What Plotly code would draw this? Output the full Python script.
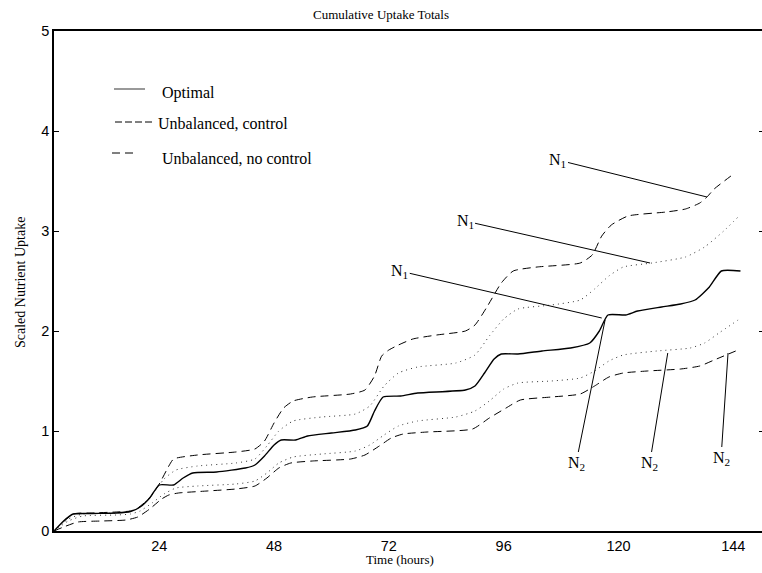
import plotly.graph_objects as go

# ---------------- data ----------------
opt_t = [2, 4, 6, 10, 15, 18, 20, 22, 24, 27, 29, 31, 36, 42, 44, 46, 48, 49.5, 52.5, 55, 60, 65,
         67.5, 69, 70.8, 74.5, 78, 88, 90, 92, 94, 95.5, 99, 104, 110, 114, 116, 117.8, 121.5, 124,
         129, 133, 136, 139, 141.5, 145.5]
opt_v = [0, 0.10, 0.17, 0.175, 0.18, 0.195, 0.24, 0.33, 0.46, 0.46, 0.53, 0.58, 0.59, 0.63, 0.66,
         0.75, 0.86, 0.91, 0.91, 0.95, 0.98, 1.01, 1.05, 1.20, 1.34, 1.35, 1.38, 1.41, 1.45, 1.58,
         1.72, 1.77, 1.77, 1.80, 1.83, 1.88, 2.00, 2.16, 2.16, 2.20, 2.24, 2.27, 2.31, 2.44, 2.60, 2.60]

ctrl_hi_t = [2, 6, 10, 15, 18, 19.5, 22, 24, 26, 27, 32, 40, 44, 46, 48, 50, 52, 56, 64, 67, 69,
             70.5, 72, 74, 77, 82, 88, 90, 92.5, 95.5, 98, 103, 112, 114.5, 116.5, 118.5, 122, 130,
             134, 137, 138.5, 140, 143.5]
ctrl_hi_v = [0, 0.17, 0.18, 0.19, 0.20, 0.23, 0.33, 0.47, 0.65, 0.72, 0.76, 0.79, 0.82, 0.90, 1.08,
             1.23, 1.30, 1.34, 1.37, 1.41, 1.55, 1.75, 1.81, 1.86, 1.92, 1.96, 2.00, 2.06, 2.24, 2.48,
             2.60, 2.64, 2.68, 2.76, 2.95, 3.06, 3.15, 3.19, 3.22, 3.28, 3.34, 3.42, 3.55]

dot_hi_t = [2, 5, 8, 15, 18, 20, 22.5, 25, 27.5, 32, 40, 44, 46.5, 49, 52, 58, 65, 68, 71, 74, 78,
            86, 90, 93, 96, 99, 106, 112, 115, 118, 121, 127, 134, 138, 142, 145]
dot_hi_v = [0, 0.12, 0.17, 0.18, 0.20, 0.24, 0.36, 0.52, 0.61, 0.65, 0.68, 0.72, 0.85, 1.00, 1.10,
            1.14, 1.17, 1.25, 1.45, 1.58, 1.64, 1.68, 1.76, 1.95, 2.12, 2.22, 2.26, 2.31, 2.42, 2.55,
            2.64, 2.68, 2.74, 2.84, 3.00, 3.14]

dot_lo_t = [2, 5, 8, 15, 18, 20, 22.5, 25, 27.5, 32, 40, 44, 46.5, 49, 52, 58, 65, 68, 71, 74, 78,
            86, 90, 93, 96, 99, 106, 112, 115, 118, 121, 128, 135, 138, 141, 145]
dot_lo_v = [0, 0.10, 0.15, 0.16, 0.17, 0.20, 0.28, 0.37, 0.43, 0.45, 0.47, 0.50, 0.58, 0.68, 0.74,
            0.77, 0.80, 0.86, 0.96, 1.05, 1.10, 1.14, 1.20, 1.30, 1.42, 1.48, 1.50, 1.53, 1.60, 1.70,
            1.76, 1.80, 1.83, 1.88, 1.98, 2.11]

ctrl_lo_t = [2, 4, 7, 12, 17, 19.5, 22, 24.5, 26, 28, 34, 40, 44, 46.5, 49, 51.5, 56, 64, 67, 70,
             72.5, 75, 80, 89.5, 93, 96.5, 99.5, 106, 112, 115, 118, 121, 126, 133, 137, 140, 144.5]
ctrl_lo_v = [0, 0.04, 0.09, 0.10, 0.11, 0.14, 0.22, 0.32, 0.36, 0.38, 0.40, 0.42, 0.45, 0.53, 0.63,
             0.68, 0.70, 0.72, 0.76, 0.85, 0.93, 0.97, 0.99, 1.02, 1.13, 1.23, 1.31, 1.34, 1.37, 1.45,
             1.54, 1.58, 1.60, 1.62, 1.65, 1.71, 1.80]

x_ticks = [24, 48, 72, 96, 120, 144]
y_ticks = [0, 1, 2, 3, 4, 5]

# label callouts: (text, target t, target value, dx px, dy px)
labels = [
    ("N<sub>1</sub>", 138.5, 3.34, -149, -37),
    ("N<sub>1</sub>", 126.6, 2.68, -185, -42),
    ("N<sub>1</sub>", 116.5, 2.13, -202, -47),
    ("N<sub>2</sub>", 117.2, 2.11, -29, 143),
    ("N<sub>2</sub>", 130.3, 1.78, -18, 110),
    ("N<sub>2</sub>", 142.9, 1.78, -7, 105),
]

legend_names = ["Optimal", "Unbalanced, control", "Unbalanced, no control"]

# ---------------- layout geometry ----------------
W, H = 762, 573
L, R, T, B = 54, 0, 31, 42
PW, PH = W - L - R, H - T - B


def px(x):
    return (x - L) / PW


def py(y):
    return (H - B - y) / PH


SERIF = "Liberation Serif, Times New Roman, serif"
SANS = "Liberation Sans, Arial, sans-serif"
SM = 0.55

fig = go.Figure()

fig.add_trace(go.Scatter(x=ctrl_hi_t, y=ctrl_hi_v, mode="lines",
                         line=dict(color="black", width=1, dash="8px,5px", shape="spline", smoothing=SM)))
fig.add_trace(go.Scatter(x=dot_hi_t, y=dot_hi_v, mode="lines",
                         line=dict(color="#333333", width=1, dash="1px,4px", shape="spline", smoothing=SM)))
fig.add_trace(go.Scatter(x=opt_t, y=opt_v, mode="lines",
                         line=dict(color="black", width=1.4, shape="spline", smoothing=SM)))
fig.add_trace(go.Scatter(x=dot_lo_t, y=dot_lo_v, mode="lines",
                         line=dict(color="#333333", width=1, dash="1px,4px", shape="spline", smoothing=SM)))
fig.add_trace(go.Scatter(x=ctrl_lo_t, y=ctrl_lo_v, mode="lines",
                         line=dict(color="black", width=1, dash="8px,5px", shape="spline", smoothing=SM)))
# dummy trace to activate the right-hand tick axis
fig.add_trace(go.Scatter(x=[None], y=[None], yaxis="y2", mode="lines", hoverinfo="skip"))

annotations = []
for text, t, v, dx, dy in labels:
    annotations.append(dict(x=t, y=v, xref="x", yref="y", text=text, showarrow=True,
                            arrowhead=0, arrowwidth=1, arrowcolor="black", ax=dx, ay=dy,
                            standoff=0, font=dict(family=SERIF, size=16, color="black")))

# legend (drawn)
leg_text_pos = [(160, 93), (156, 123), (160, 158)]
for name, (lx, ly) in zip(legend_names, leg_text_pos):
    annotations.append(dict(x=px(lx), y=py(ly), xref="paper", yref="paper", text=name,
                            showarrow=False, xanchor="left", yanchor="middle",
                            font=dict(family=SERIF, size=16, color="black")))

# axis titles
annotations.append(dict(x=px(400), y=py(559), xref="paper", yref="paper", text="Time (hours)",
                        showarrow=False, xanchor="center", yanchor="middle",
                        font=dict(family=SERIF, size=13, color="black")))
annotations.append(dict(x=px(20), y=py(283), xref="paper", yref="paper", text="Scaled Nutrient Uptake",
                        showarrow=False, xanchor="center", yanchor="middle", textangle=-90,
                        font=dict(family=SERIF, size=14, color="black")))

shapes = [
    dict(type="line", xref="paper", yref="paper", x0=px(114), x1=px(145), y0=py(89), y1=py(89),
         line=dict(color="#555555", width=1.2)),
    dict(type="line", xref="paper", yref="paper", x0=px(115), x1=px(152), y0=py(122), y1=py(122),
         line=dict(color="black", width=1, dash="7px,3px")),
    dict(type="line", xref="paper", yref="paper", x0=px(112), x1=px(133), y0=py(153), y1=py(153),
         line=dict(color="black", width=1, dash="8px,5px")),
]

fig.update_layout(
    width=W, height=H,
    margin=dict(l=L, r=R, t=T, b=B, pad=0),
    paper_bgcolor="white", plot_bgcolor="white",
    showlegend=False,
    title=dict(text="Cumulative Uptake Totals", x=0.5, xref="container", xanchor="center",
               y=1 - 14 / H, yref="container", yanchor="middle",
               font=dict(family=SERIF, size=13, color="black")),
    xaxis=dict(range=[2, 150], tickvals=x_ticks, ticktext=[str(v) for v in x_ticks],
               showgrid=False, zeroline=False, showline=True, linecolor="black", linewidth=1.5,
               mirror=True, ticks="", ticklabelstandoff=1,
               tickfont=dict(family=SANS, size=14.5, color="black")),
    yaxis=dict(range=[0, 5], tickvals=y_ticks, ticktext=[str(v) for v in y_ticks],
               showgrid=False, zeroline=False, showline=True, linecolor="black", linewidth=1.5,
               ticks="inside", ticklen=5, tickcolor="black", tickwidth=1,
               tickfont=dict(family=SANS, size=14.5, color="black")),
    yaxis2=dict(range=[0, 5], tickvals=y_ticks, overlaying="y", side="right", anchor="x",
                showgrid=False, zeroline=False, showline=False, showticklabels=False,
                ticks="inside", ticklen=3, tickcolor="black", tickwidth=1),
    annotations=annotations,
    shapes=shapes,
)

fig.write_html("out.html")
